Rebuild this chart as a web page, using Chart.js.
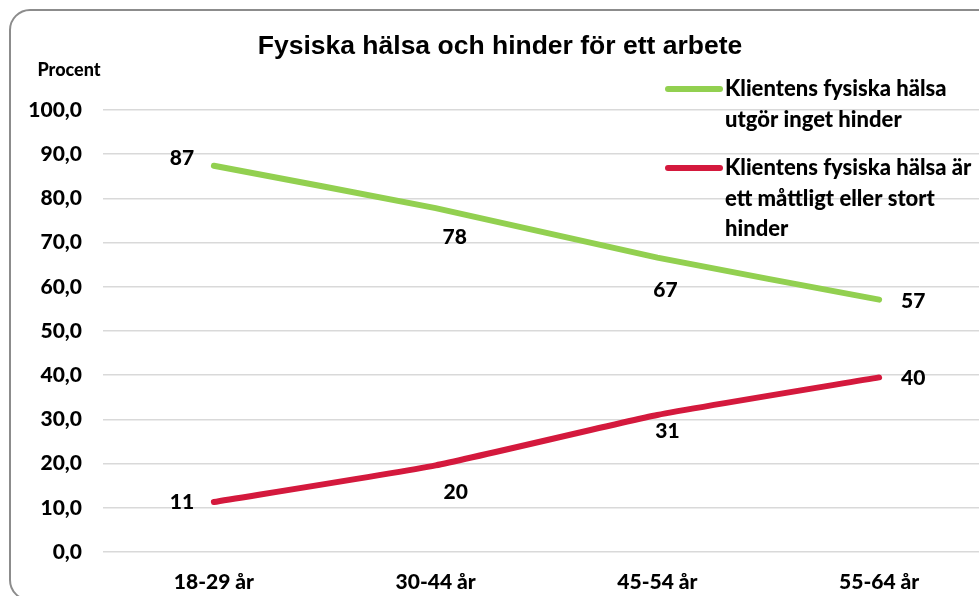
<!DOCTYPE html>
<html>
<head>
<meta charset="utf-8">
<script src="https://cdn.jsdelivr.net/npm/chart.js@4.4.1/dist/chart.umd.min.js"></script>
<style>
  html, body { margin: 0; padding: 0; background: #fff; overflow: hidden; }
  #wrap { position: absolute; left: 0; top: 0; width: 1000px; height: 596px; }
</style>
</head>
<body>
<div id="wrap"><canvas id="chart"></canvas></div>
<script>
// Data
var categories = ['18-29 år', '30-44 år', '45-54 år', '55-64 år'];
var noHinder = [87.4, 77.8, 66.6, 57.1];
var hinder = [11.3, 19.6, 31.0, 39.5];
var noHinderLabels = ['87', '78', '67', '57'];
var hinderLabels = ['11', '20', '31', '40'];
var seriesNames = [
    ['Klientens fysiska hälsa', 'utgör inget hinder'],
    ['Klientens fysiska hälsa är', 'ett måttligt eller stort', 'hinder']
];
var yTicks = [0, 10, 20, 30, 40, 50, 60, 70, 80, 90, 100];

var GREEN = '#92D050';
var RED = '#D4193D';
var FONT = 'Lato, "Open Sans", sans-serif';

// Where each value label sits relative to its point (dx, dy)
var labelOffsets = [
    [[-32, -7], [19, 29], [8, 33], [34, 2]],
    [[-32, 0], [20, 27], [10, 16], [34, 1]]
];

// Frame, title, "Procent", legend and value labels
var decorPlugin = {
    id: 'decor',
    beforeDraw: function(chart) {
        var ctx = chart.ctx;
        ctx.save();
        ctx.strokeStyle = '#8c8c8c';
        ctx.lineWidth = 2;
        ctx.beginPath();
        ctx.roundRect(10, 10, 1040, 590, 20);
        ctx.stroke();
        ctx.restore();
    },
    afterDraw: function(chart) {
        var ctx = chart.ctx;
        ctx.save();
        ctx.fillStyle = '#000';
        ctx.textAlign = 'center';
        ctx.textBaseline = 'middle';
        ctx.font = 'bold 26.5px "Liberation Sans", Arial, sans-serif';
        ctx.fillText('Fysiska hälsa och hinder för ett arbete', 500, 47);

        ctx.font = '900 18px ' + FONT;
        ctx.fillText('Procent', 69, 70);

        // legend
        var legendColors = [GREEN, RED];
        var legendTop = [89, 168];
        ctx.textAlign = 'left';
        ctx.font = '900 22px ' + FONT;
        for (var i = 0; i < seriesNames.length; i++) {
            ctx.strokeStyle = legendColors[i];
            ctx.lineWidth = 6;
            ctx.lineCap = 'round';
            ctx.beginPath();
            ctx.moveTo(668, legendTop[i]);
            ctx.lineTo(720, legendTop[i]);
            ctx.stroke();
            for (var j = 0; j < seriesNames[i].length; j++) {
                ctx.fillText(seriesNames[i][j], 725, legendTop[i] + j * 30.5);
            }
        }

        // value labels
        var labelSets = [noHinderLabels, hinderLabels];
        ctx.textAlign = 'center';
        ctx.font = '900 21px ' + FONT;
        labelSets.forEach(function(labels, d) {
            var meta = chart.getDatasetMeta(d);
            meta.data.forEach(function(pt, k) {
                var off = labelOffsets[d][k];
                ctx.fillText(labels[k], pt.x + off[0], pt.y + off[1]);
            });
        });
        ctx.restore();
    }
};

var ctx = document.getElementById('chart').getContext('2d');
var myChart = new Chart(ctx, {
    type: 'line',
    data: {
        labels: categories,
        datasets: [{
            label: seriesNames[0].join(' '),
            data: noHinder,
            borderColor: GREEN,
            borderWidth: 6,
            borderCapStyle: 'round',
            pointRadius: 0,
            tension: 0.15
        }, {
            label: seriesNames[1].join(' '),
            data: hinder,
            borderColor: RED,
            borderWidth: 6,
            borderCapStyle: 'round',
            pointRadius: 0,
            tension: 0.15
        }]
    },
    options: {
        responsive: true,
        maintainAspectRatio: false,
        animation: false,
        layout: { padding: { top: 110, left: 0, right: 10, bottom: 0 } },
        plugins: {
            legend: { display: false },
            tooltip: { enabled: false }
        },
        scales: {
            x: {
                offset: true,
                grid: { display: false, drawTicks: false },
                border: { display: false },
                ticks: {
                    color: '#000',
                    padding: 18,
                    font: { family: FONT, size: 21, weight: 900 }
                },
                afterFit: function(s) { s.height = 44; }
            },
            y: {
                min: 0,
                max: 100,
                afterBuildTicks: function(s) {
                    s.ticks = yTicks.map(function(v) { return { value: v }; });
                },
                grid: { color: '#d9d9d9', lineWidth: 1.5, drawTicks: false },
                border: { display: false },
                ticks: {
                    color: '#000',
                    padding: 21,
                    font: { family: FONT, size: 21, weight: 900 },
                    callback: function(v) { return v.toFixed(1).replace('.', ','); }
                },
                afterFit: function(s) { s.width = 103; }
            }
        }
    },
    plugins: [decorPlugin]
});
</script>
</body>
</html>
